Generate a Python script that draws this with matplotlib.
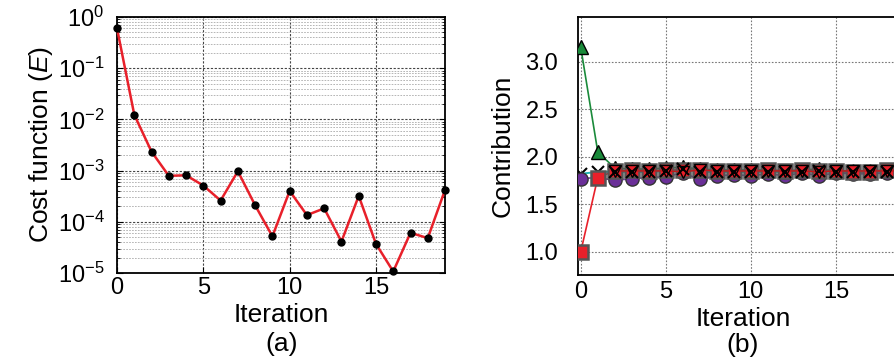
import matplotlib
matplotlib.use("Agg")
import matplotlib.pyplot as plt
from matplotlib import ticker
import numpy as np

plt.rcParams["font.family"] = ["Liberation Sans", "DejaVu Sans"]
plt.rcParams["mathtext.fontset"] = "custom"
plt.rcParams["mathtext.rm"] = "Liberation Sans"
plt.rcParams["mathtext.it"] = "Liberation Sans:italic"

# (a) cost function per iteration
iters = list(range(20))
cost = [0.6, 0.0123, 0.00234, 7.9e-4, 8.1e-4, 5.1e-4, 2.6e-4, 9.7e-4, 2.1e-4, 5.2e-5,
        4.0e-4, 1.35e-4, 1.83e-4, 4.1e-5, 3.2e-4, 3.7e-5, 1.07e-5, 6.1e-5, 4.8e-5, 4.2e-4]
decades = [1e-5, 1e-4, 1e-3, 1e-2, 1e-1, 1e0]
decade_labels = ["10$^{-5}$", "10$^{-4}$", "10$^{-3}$", "10$^{-2}$", "10$^{-1}$", "10$^{0}$"]

# (b) contributions per iteration
purple = [1.77, 1.78, 1.75, 1.77, 1.78, 1.79, 1.83, 1.76, 1.80, 1.81,
          1.80, 1.82, 1.80, 1.83, 1.80, 1.83, 1.82, 1.82, 1.83, 1.83]
red_sq = [1.00, 1.78, 1.85, 1.86, 1.85, 1.86, 1.86, 1.86, 1.85, 1.85,
          1.85, 1.86, 1.85, 1.86, 1.85, 1.85, 1.84, 1.84, 1.86, 1.85]
green = [3.15, 2.05, 1.88, 1.87, 1.87, 1.88, 1.89, 1.87, 1.86, 1.86,
         1.86, 1.86, 1.85, 1.86, 1.87, 1.85, 1.85, 1.85, 1.86, 1.85]
red_v = [1.80, 1.80, 1.85, 1.85, 1.85, 1.85, 1.84, 1.86, 1.85, 1.85,
         1.85, 1.85, 1.85, 1.85, 1.84, 1.85, 1.85, 1.85, 1.85, 1.85]
cross = [1.82, 1.84, 1.84, 1.84, 1.84, 1.85, 1.87, 1.84, 1.84, 1.84,
         1.84, 1.84, 1.84, 1.84, 1.85, 1.84, 1.84, 1.84, 1.84, 1.84]

fig = plt.figure(figsize=(8.94, 3.6), dpi=100)

# ---- (a)
ax1 = fig.add_axes([0.1309, 0.2417, 0.3669, 0.7111])
ax1.plot(iters, cost, color="#e8202a", lw=1.8, marker="o", ms=5,
         mfc="black", mec="black", zorder=3, clip_on=False)
ax1.set_yscale("log")
ax1.set_ylim(1e-5, 1)
ax1.set_xlim(0, 19)
ax1.set_xticks([0, 5, 10, 15])
ax1.set_yticks(decades)
ax1.set_yticklabels(decade_labels)
ax1.yaxis.set_minor_locator(ticker.LogLocator(base=10, subs=np.arange(2, 10), numticks=100))
ax1.yaxis.set_minor_formatter(ticker.NullFormatter())
ax1.grid(True, which="major", color="#444444", ls=(0, (2, 1.5)), lw=0.8)
ax1.grid(True, which="minor", color="#aaaaaa", ls=(0, (2, 1.5)), lw=0.6)
ax1.tick_params(which="both", direction="in", right=True, top=False, labelsize=17)
ax1.tick_params(axis="y", which="major", length=4, pad=9)
ax1.tick_params(axis="x", which="major", length=4, pad=3)
ax1.tick_params(which="minor", length=2)
ax1.set_ylabel("Cost function ($\\it{E}$)", fontsize=19, labelpad=2)
ax1.set_xlabel("Iteration", fontsize=19, labelpad=3)
for s in ax1.spines.values():
    s.set_linewidth(1.3)

# ---- (b)
ax2 = fig.add_axes([0.6462, 0.2361, 0.3706, 0.7167])
ax2.plot(iters, cross, color="#1fb5b5", lw=1.4, marker="x", ms=8,
         mec="black", mew=1.5, zorder=3)
ax2.plot(iters, purple, color="#7a3fa8", lw=1.2, marker="o", ms=9.5,
         mfc="#6a2f98", mec="#333333", zorder=4)
ax2.plot(iters, green, color="#1a8a3a", lw=1.2, marker="^", ms=10,
         mfc="#1a8a3a", mec="black", zorder=4.5)
ax2.plot(iters, red_sq, color="#e8202a", lw=1.2, marker="s", ms=9.5,
         mfc="#e8202a", mec="#555555", mew=1.8, zorder=5)
ax2.plot(iters[2:], red_v[2:], color="#c01818", lw=1.0, marker="v", ms=9,
         mfc="#e8202a", mec="black", zorder=6)
ax2.plot(iters[2:], cross[2:], ls="none", marker="x", ms=8,
         mec="black", mew=1.5, zorder=7)
ax2.set_xlim(-0.18, 19.3)
ax2.set_ylim(0.755, 3.47)
ax2.set_xticks([0, 5, 10, 15])
ax2.set_yticks([1.0, 1.5, 2.0, 2.5, 3.0])
ax2.yaxis.set_major_formatter(ticker.FormatStrFormatter("%.1f"))
ax2.grid(True, color="#777777", ls=(0, (1.5, 1.5)), lw=0.8)
ax2.tick_params(direction="in", labelsize=17, length=0)
ax2.tick_params(axis="y", pad=14)
ax2.tick_params(axis="x", pad=4)
ax2.set_ylabel("Contribution", fontsize=19, labelpad=8)
ax2.set_xlabel("Iteration", fontsize=19, labelpad=3)
for s in ax2.spines.values():
    s.set_linewidth(1.3)

fig.text(0.3145, 0.045, "(a)", fontsize=19, ha="center", va="center")
fig.text(0.831, 0.042, "(b)", fontsize=19, ha="center", va="center")

fig.savefig("out.png", dpi=100)
